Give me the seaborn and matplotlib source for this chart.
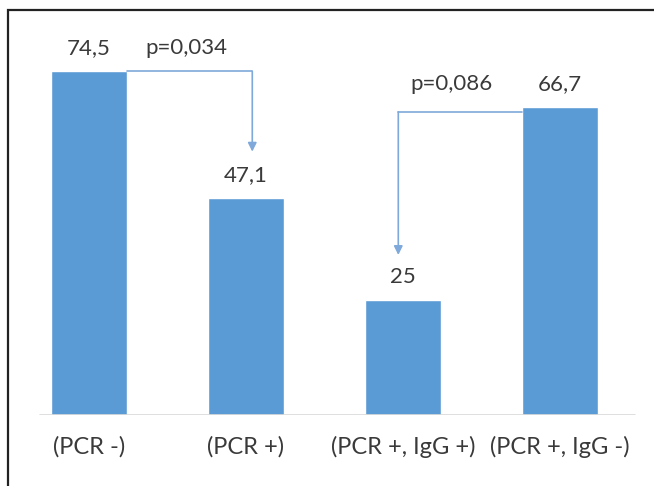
import matplotlib.pyplot as plt
import matplotlib.patches as mpatches
import pandas as pd
import seaborn as sns

# ── Data ──────────────────────────────────────────────────────────────────────

categories = ["(PCR -)", "(PCR +)", "(PCR +, IgG +)", "(PCR +, IgG -)"]
values     = [74.5, 47.1, 25, 66.7]
value_labels = ["74,5", "47,1", "25", "66,7"]
p_labels   = ["p=0,034", "p=0,086"]

BAR_COLOR   = "#5b9bd5"
ARROW_COLOR = "#7fa9da"
TEXT_COLOR  = "#3a3a3a"
FS = 16

sns.set_theme(style="white")
plt.rcParams["font.family"] = ["Lato", "DejaVu Sans"]

df = pd.DataFrame({"group": categories, "pct": values})

fig = plt.figure(figsize=(6.54, 4.86), dpi=100)
ax = fig.add_axes([10.5 / 654, 71 / 486, 628 / 654, 369 / 486])

sns.barplot(data=df, x="group", y="pct", color=BAR_COLOR, width=0.484,
            saturation=1, ax=ax)

ax.set_xlim(-0.5, 3.5)
ax.set_ylim(0, 80)
ax.set_xlabel("")
ax.set_ylabel("")
ax.set_yticks([])
ax.tick_params(axis="x", length=0, pad=15, labelsize=17, labelcolor=TEXT_COLOR)
for s in ax.spines.values():
    s.set_visible(False)
ax.axhline(0, xmin=0.047, xmax=0.994, color="#d9d9d9", lw=1.2)

# value labels
for i, (v, lab) in enumerate(zip(values, value_labels)):
    ax.text(i, v + 5, lab, ha="center", va="center", fontsize=FS, color=TEXT_COLOR)

# arrow 1: bar 0 -> bar 1
half = 0.484 / 2
ax.plot([0 + half, 1.04], [values[0], values[0]], color=ARROW_COLOR, lw=1.2)
ax.annotate("", xy=(1.04, values[1] + 10), xytext=(1.04, values[0]),
            arrowprops=dict(arrowstyle="-|>", color=ARROW_COLOR, lw=1.2,
                            mutation_scale=13, shrinkA=0, shrinkB=0))
ax.text(0.62, values[0] + 5, p_labels[0], ha="center", va="center",
        fontsize=FS, color=TEXT_COLOR)

# arrow 2: bar 3 -> bar 2
ax.plot([3 - half, 1.97], [values[3] - 1, values[3] - 1], color=ARROW_COLOR, lw=1.2)
ax.annotate("", xy=(1.97, values[2] + 9.7), xytext=(1.97, values[3] - 1),
            arrowprops=dict(arrowstyle="-|>", color=ARROW_COLOR, lw=1.2,
                            mutation_scale=13, shrinkA=0, shrinkB=0))
ax.text(2.31, values[3] + 5, p_labels[1], ha="center", va="center",
        fontsize=FS, color=TEXT_COLOR)

# frame around the figure (clipped at right and bottom)
fig.patches.append(mpatches.Rectangle((8 / 654, -0.05), 1.0, (476 / 486) + 0.05,
                                      transform=fig.transFigure, fill=False,
                                      lw=1.6, ec="#222222"))

fig.savefig("out.png", dpi=100)
